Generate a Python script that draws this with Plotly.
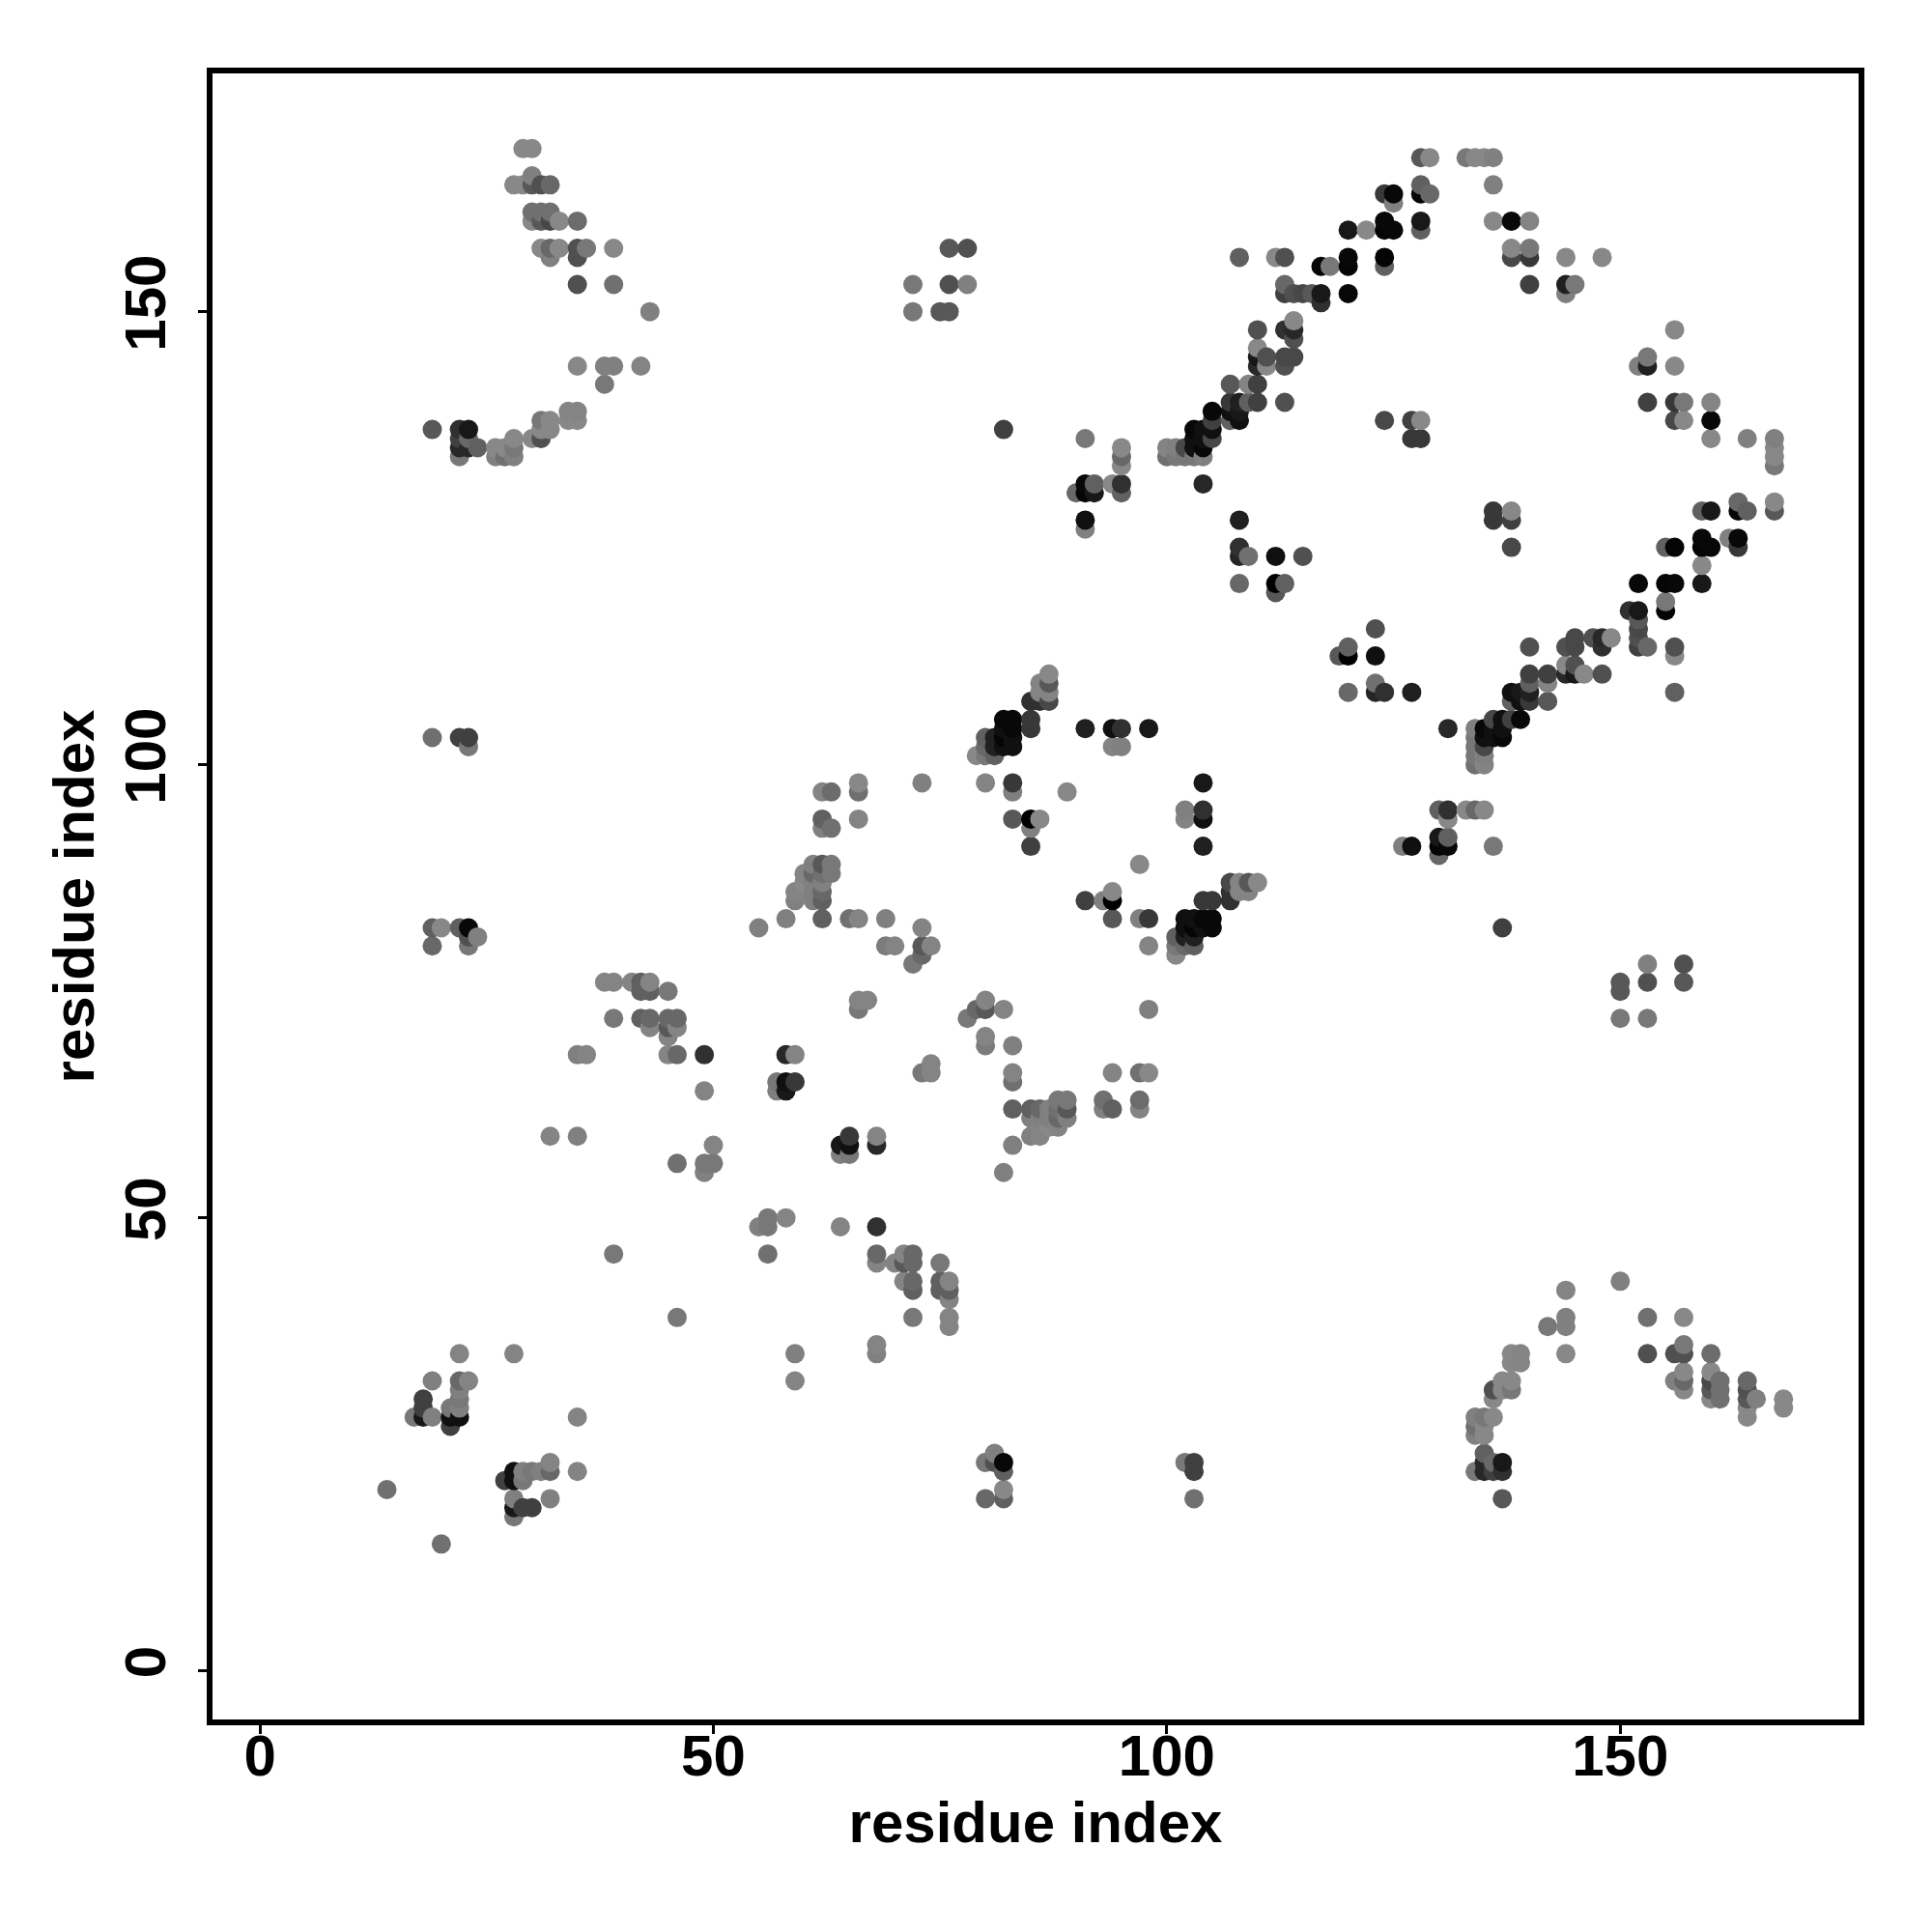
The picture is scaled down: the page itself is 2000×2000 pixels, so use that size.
import numpy as np
import plotly.graph_objects as go

# Contact map: symmetric pairs (res_i < res_j) with the grey level (0-255) of each contact
res_i = [14, 17, 18,18,18,
 19,19,19,19,19,19, 20, 21,21,21,
 22,22,22,22,22,22,22,22,22,22,22,22,
 23,23,23,23,23,23,23,23,23, 24,24, 26,26, 27,27,
 28,28,28,28,28, 29,29, 30,30,30,30,30,30,
 31,31,31,31,31,31,31, 32,32,32,32,32,32,32,32, 33,33, 34,34,
 35,35,35,35,35,35,35,35,35, 36,36, 38,38,38,
 39,39,39,39,39,39, 41, 42,42,42,42, 43,43,43,43,43,
 45,45,45,45,45, 46,46,46,46, 49,49,49,49, 50,50, 55, 57,57,
 58,58,58,58, 59,59,59,59, 60,60,60, 61,61,61,61,61,
 62,62,62,62,62,62,62,62,62, 63,63,63,63, 65,
 66,66,66,66,66,66, 67, 69,69, 70, 72,72,72, 73,73,73,73, 74, 75,
 76,76,76, 78,78, 79, 80,80,80,80, 81,81,81,
 82,82,82,82,82, 83,83,83,83,83,83,83,
 85,85,85,85,85,85, 86,86,86,86, 87,87,87,87, 89, 90,
 91,91,91,91,91,91, 92,92, 94,94,94, 95,95,95,95,95,95,95, 98,
 100,100, 101,101, 102,102, 103,103,103,103, 104,104,104,104,104,
 105,105,105,105, 107,107,107,107, 108,108,108,108,108,108,108,108,
 109,109,109, 110,110,110,110,110,110, 111,111, 112,112,112,112,
 113,113,113,113,113,113,113,113, 114,114,114,114,114, 115,115, 116,
 117,117,117, 118, 120,120,120,120, 122,
 124,124,124,124,124,124, 125,125,125, 127,127,
 128,128,128,128,128,128,128, 129,129, 133, 134, 135,
 136,136,136, 138,138,138, 140,140,140,140, 144,144,144, 145, 148]

res_j = [20, 28, 28,29,30,
 28,32,80,82,103,137, 82, 27,28,29,
 28,29,30,31,32,35,82,103,134,135,136,137,
 32,80,81,82,102,103,135,136,137, 81,135, 134,135, 134,135,
 35,134,135,136,164, 164,168, 136,160,161,164,165,168,
 136,137,138,157,160,161,164, 59,137,138,156,157,160,161,164, 157,160, 138,139,
 59,68,138,139,144,153,156,157,160, 68,157, 76,142,144,
 46,72,76,144,153,157, 76, 72,75,76,144, 71,72,75,76,150,
 68,70,71,72,75, 56,68,71,72, 55,56,64,68, 56,58, 82, 64,65,
 64,65,68,83, 65,68,85,86, 86,87,88, 85,86,87,88,89,
 83,85,86,87,88,89,93,94,97, 88,89,93,97, 83,
 73,74,83,94,97,98, 74, 80,83, 80, 78,150,153, 79,80,82,98, 80, 150,
 150,153,157, 153,157, 101, 98,101,102,103, 101,102,103,
 102,103,104,105,137, 94,97,98,102,103,104,105,
 91,93,94,104,105,107, 94,107,108,109, 107,108,109,110, 97, 130,
 104,126,127,130,131,136, 130,131, 102,104,131, 102,104,130,131,133,134,135, 104,
 134,135, 134,135, 134,135, 134,135,136,137, 131,134,135,136,137,
 136,137,138,139, 138,139,140,142, 120,123,124,127,138,139,140,156,
 123,140,142, 140,142,144,145,146,148, 144,145, 119,120,123,156,
 120,140,144,145,148,152,153,156, 145,147,148,149,152, 123,152, 152,
 151,152,155, 155, 152,155,156,159, 159,
 138,155,156,159,160,163, 159,162,163, 136,138,
 136,138,159,160,163,164,167, 163,167, 167, 167, 167,
 160,164,167, 156,157,160, 153,156,157,160, 152,153,156, 153, 156]

grey = [0x70, 0x78, 0x18,0x40,0x40,
 0x80,0x80,0x68,0x60,0x70,0x58, 0x88, 0x40,0x10,0x78,
 0x10,0x80,0x78,0x80,0x68,0x84,0x60,0x40,0x78,0x28,0x40,0x30,
 0x84,0x78,0x50,0x08,0x78,0x40,0x28,0x68,0x18, 0x80,0x60, 0x80,0x88, 0x70,0x88,
 0x84,0x80,0x78,0x88,0x88, 0x88,0x88, 0x88,0x88,0x70,0x58,0x80,0x88,
 0x50,0x88,0x78,0x88,0x58,0x70,0x50, 0x84,0x88,0x88,0x80,0x68,0x48,0x70,0x68, 0x88,0x88, 0x88,0x84,
 0x80,0x80,0x88,0x84,0x88,0x50,0x50,0x50,0x6c, 0x84,0x78, 0x84,0x78,0x80,
 0x78,0x78,0x84,0x80,0x70,0x88, 0x84, 0x60,0x60,0x60,0x84, 0x84,0x68,0x60,0x84,0x80,
 0x84,0x84,0x58,0x68,0x78, 0x70,0x68,0x84,0x68, 0x80,0x78,0x84,0x30, 0x78,0x84, 0x80, 0x80,0x78,
 0x18,0x10,0x28,0x80, 0x38,0x84,0x80,0x84, 0x84,0x88,0x84, 0x80,0x80,0x80,0x68,0x80,
 0x60,0x60,0x68,0x80,0x70,0x58,0x80,0x60,0x84, 0x78,0x78,0x70,0x6c, 0x70,
 0x78,0x84,0x84,0x84,0x70,0x88, 0x84, 0x7c,0x80, 0x84, 0x78,0x78,0x78, 0x68,0x58,0x84,0x80, 0x84, 0x58,
 0x58,0x50,0x58, 0x80,0x50, 0x88, 0x84,0x78,0x68,0x60, 0x60,0x20,0x20,
 0x10,0x05,0x10,0x08,0x40, 0x58,0x80,0x38,0x10,0x10,0x08,0x08,
 0x40,0x80,0x00,0x38,0x38,0x30, 0x88,0x30,0x84,0x84, 0x48,0x84,0x58,0x88, 0x88, 0x68,
 0x20,0x80,0x10,0x05,0x08,0x78, 0x18,0x60, 0x84,0x10,0x88, 0x80,0x30,0x60,0x30,0x88,0x68,0x88, 0x18,
 0x70,0x84, 0x78,0x80, 0x78,0x48, 0x78,0x10,0x10,0x08, 0x28,0x80,0x08,0x10,0x10,
 0x48,0x10,0x40,0x08, 0x60,0x10,0x38,0x58, 0x68,0x25,0x30,0x20,0x10,0x18,0x20,0x60,
 0x70,0x60,0x84, 0x40,0x40,0x28,0x18,0x88,0x50, 0x88,0x50, 0x58,0x00,0x10,0x88,
 0x60,0x50,0x50,0x48,0x30,0x40,0x68,0x50, 0x48,0x50,0x28,0x88,0x50, 0x50,0x48, 0x58,
 0x30,0x18,0x05, 0x78, 0x08,0x05,0x08,0x18, 0x88,
 0x48,0x60,0x05,0x05,0x08,0x38, 0x08,0x80,0x08, 0x38,0x40,
 0x38,0x88,0x60,0x18,0x05,0x60,0x58, 0x68,0x88, 0x78, 0x88, 0x88,
 0x88,0x80,0x80, 0x48,0x88,0x08, 0x40,0x38,0x78,0x84, 0x80,0x20,0x88, 0x78, 0x88]

tick_values = [0, 50, 100, 150]
tick_labels = ["0", "50", "100", "150"]
axis_title = "residue index"

assert len(res_i) == len(res_j) == len(grey), (len(res_i), len(res_j), len(grey))

x = np.array(res_i + res_j)
y = np.array(res_j + res_i)
g = np.array(grey + grey)
order = np.lexsort((y, x))

fig = go.Figure(go.Scatter(
    x=x[order], y=y[order], mode="markers",
    marker=dict(size=20, color=g[order], cmin=0, cmax=255,
                colorscale=[[0, "rgb(0,0,0)"], [1, "rgb(255,255,255)"]],
                showscale=False, line=dict(width=0)),
    hoverinfo="skip"))

font = dict(family="Liberation Sans", size=60, color="black", weight=700)
axis = dict(showgrid=False, zeroline=False, showline=True, mirror=True,
            linecolor="black", linewidth=6, ticks="outside", ticklen=9,
            tickwidth=3, tickcolor="black", tickvals=tick_values,
            ticktext=tick_labels, tickfont=font)

fig.update_layout(
    width=2000, height=2000, autosize=False,
    paper_bgcolor="white", plot_bgcolor="white", showlegend=False,
    margin=dict(l=212, r=84, t=68, b=228, pad=0),
    xaxis=dict(axis, range=[-5.23, 176.28], ticklabelstandoff=-29,
               title=dict(text=axis_title, font=font, standoff=17)),
    yaxis=dict(axis, range=[-5.37, 176.3], tickangle=-90, ticklabelstandoff=10,
               title=dict(text=axis_title, font=font, standoff=2)),
)
fig.write_html("out.html", config=dict(displayModeBar=False))
